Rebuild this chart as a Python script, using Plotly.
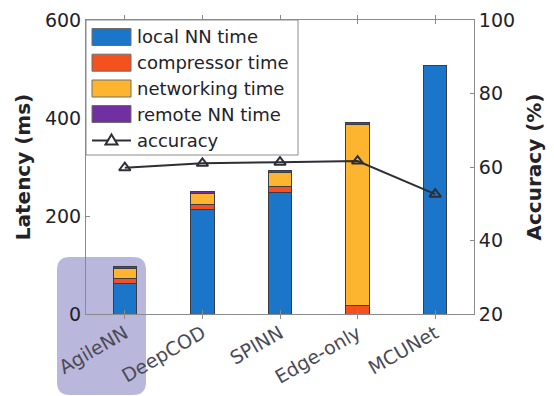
import plotly.graph_objects as go

# Latency breakdown (ms) and accuracy (%) per approach
methods = ["AgileNN", "DeepCOD", "SPINN", "Edge-only", "MCUNet"]
local_nn = [63, 213, 248, 0, 508]
compressor = [9, 11, 13, 18, 0]
networking = [20, 22, 27, 368, 0]
remote_nn = [5, 5, 5, 5, 0]
accuracy = [59.8, 61.0, 61.3, 61.6, 52.6]

series_names = ["local NN time", "compressor time", "networking time", "remote NN time"]
series_vals = [local_nn, compressor, networking, remote_nn]
series_colors = ["#1b75c8", "#f4511e", "#fdb52f", "#7030a0"]
line_color = "#2e2e36"

W, H = 554, 396
L, R, T, B = 86, 80, 20, 82
pw, ph = W - L - R, H - T - B
FONT = "DejaVu Sans, Verdana, sans-serif"


def px_to_paper(x, y):
    """Convert a pixel position on the page to paper coordinates."""
    return (x - L) / pw, (H - B - y) / ph


fig = go.Figure()
for name, vals, col in zip(series_names, series_vals, series_colors):
    fig.add_trace(go.Bar(
        x=methods, y=vals, name=name, width=0.3, showlegend=False,
        marker=dict(color=col, line=dict(color="#3c3c46", width=1)),
    ))

fig.add_trace(go.Scatter(
    x=methods, y=accuracy, name="accuracy", yaxis="y2", mode="lines+markers",
    showlegend=False,
    line=dict(color=line_color, width=2),
    marker=dict(symbol="triangle-up-open", size=10, color=line_color,
                line=dict(width=2, color=line_color)),
))

shapes = []
annotations = []

# rounded highlight behind the first category
x0, y0 = px_to_paper(57, 257)
x1, y1 = px_to_paper(146, 395)
rx, ry = 13 / pw, 13 / ph
path = (f"M {x0+rx},{y0} L {x1-rx},{y0} Q {x1},{y0} {x1},{y0-ry} "
        f"L {x1},{y1+ry} Q {x1},{y1} {x1-rx},{y1} L {x0+rx},{y1} "
        f"Q {x0},{y1} {x0},{y1+ry} L {x0},{y0-ry} Q {x0},{y0} {x0+rx},{y0} Z")
shapes.append(dict(type="path", path=path, xref="paper", yref="paper",
                   fillcolor="#b9b7dc", line=dict(width=0), layer="below"))

# legend box with wide colour swatches
bx0, by0 = px_to_paper(86, 20)
bx1, by1 = px_to_paper(298, 155)
shapes.append(dict(type="rect", xref="paper", yref="paper", x0=bx0, y0=by1, x1=bx1, y1=by0,
                   fillcolor="white", line=dict(color="#8c8c8c", width=1), layer="above"))

row_y = [37, 62.7, 88.5, 114, 140.5]
sw_x0, sw_x1, txt_x = 92, 131, 135
for name, col, yc in zip(series_names, series_colors, row_y):
    ax0, ay0 = px_to_paper(sw_x0, yc - 8.5)
    ax1, ay1 = px_to_paper(sw_x1, yc + 8.5)
    shapes.append(dict(type="rect", xref="paper", yref="paper", x0=ax0, y0=ay1, x1=ax1, y1=ay0,
                       fillcolor=col, line=dict(color="#6e6e6e", width=1), layer="above"))
    tx, ty = px_to_paper(txt_x, yc)
    annotations.append(dict(text=name, x=tx, y=ty, xref="paper", yref="paper",
                            xanchor="left", yanchor="middle", showarrow=False,
                            font=dict(family=FONT, size=18, color="#222228")))

# accuracy legend entry: line with open triangle
yc = row_y[-1]
lx0, ly = px_to_paper(sw_x0, yc)
lx1, _ = px_to_paper(sw_x1, yc)
shapes.append(dict(type="line", xref="paper", yref="paper", x0=lx0, y0=ly, x1=lx1, y1=ly,
                   line=dict(color=line_color, width=2), layer="above"))
cx = (sw_x0 + sw_x1) / 2
tri = [px_to_paper(cx, yc - 6), px_to_paper(cx + 6, yc + 4), px_to_paper(cx - 6, yc + 4)]
tri_path = "M " + " L ".join(f"{a},{b}" for a, b in tri) + " Z"
shapes.append(dict(type="path", path=tri_path, xref="paper", yref="paper",
                   fillcolor="white", line=dict(color=line_color, width=2), layer="above"))
tx, ty = px_to_paper(txt_x, yc)
annotations.append(dict(text="accuracy", x=tx, y=ty, xref="paper", yref="paper",
                        xanchor="left", yanchor="middle", showarrow=False,
                        font=dict(family=FONT, size=18, color="#222228")))

axis_grey = "#8a8a8a"
fig.update_layout(
    width=W, height=H,
    margin=dict(l=L, r=R, t=T, b=B, autoexpand=False),
    barmode="stack",
    paper_bgcolor="white", plot_bgcolor="rgba(0,0,0,0)",
    font=dict(family=FONT, color="#222228"),
    showlegend=False,
    shapes=shapes,
    annotations=annotations,
    xaxis=dict(
        range=[-0.5, 4.5], showline=True, linecolor=axis_grey, linewidth=1,
        mirror="allticks", ticks="inside", ticklen=4, tickcolor=axis_grey,
        tickangle=-30, tickfont=dict(size=19, color="#4a4a55"),
        showgrid=False, automargin=False,
    ),
    yaxis=dict(
        range=[0, 600], dtick=200, showline=True, linecolor=axis_grey,
        ticks="inside", ticklen=4, tickcolor=axis_grey, showgrid=False,
        zeroline=False, tickfont=dict(size=19, color="#222228"), automargin=False,
        title=dict(text="<b>Latency (ms)</b>", font=dict(size=20), standoff=8),
    ),
    yaxis2=dict(
        range=[20, 100], dtick=20, overlaying="y", side="right",
        showline=True, linecolor=axis_grey, ticks="inside", ticklen=4,
        tickcolor=axis_grey, showgrid=False, zeroline=False, automargin=False,
        tickfont=dict(size=19, color="#222228"),
        title=dict(text="<b>Accuracy (%)</b>", font=dict(size=20), standoff=12),
    ),
)

fig.write_html("out.html")
